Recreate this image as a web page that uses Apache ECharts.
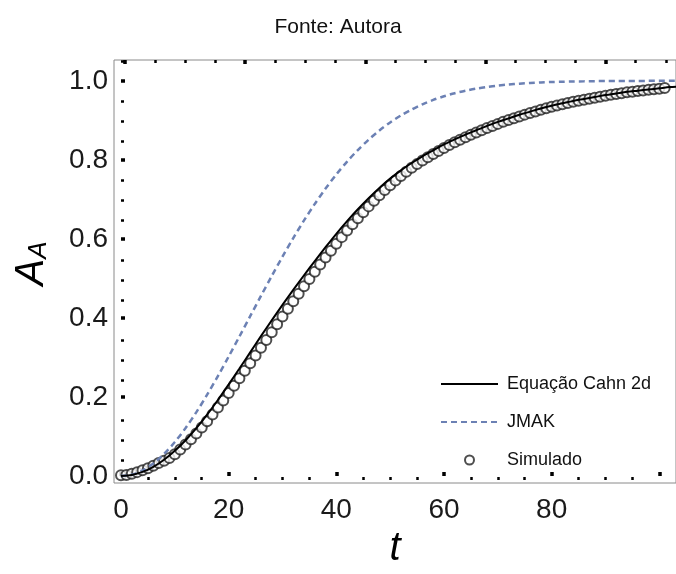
<!DOCTYPE html>
<html>
<head>
<meta charset="utf-8">
<script src="https://cdn.jsdelivr.net/npm/echarts@6/dist/echarts.min.js"></script>
<style>html,body{margin:0;padding:0;background:#fff;}#c{width:676px;height:574px;}</style>
</head>
<body>
<div id="c"></div>
<script>
// ---- data ----
const curveT = [0,2,4,6,8,10,12,14,16,18,20,22,24,26,28,30,32,34,36,38,40,42,44,46,48,50,52,54,56,58,60,62,64,66,68,70,72,74,76,78,80,82,84,86,88,90,92,94,96,98,100,102,104];
const cahnA = [0,0.0026,0.0105,0.0235,0.0414,0.0639,0.0907,0.1213,0.1555,0.1925,0.2320,0.272,0.313,0.354,0.394,0.433,0.471,0.508,0.544,0.579,0.613,0.645,0.675,0.703,0.729,0.7525,0.7735,0.792,0.809,0.824,0.839,0.852,0.864,0.875,0.886,0.896,0.905,0.914,0.922,0.930,0.937,0.943,0.949,0.954,0.959,0.964,0.968,0.972,0.975,0.978,0.981,0.984,0.986];
const jmakA = [0,0.0036,0.0143,0.0319,0.0560,0.0861,0.1216,0.1617,0.2058,0.2529,0.3023,0.3531,0.4045,0.4558,0.5062,0.5551,0.6021,0.6467,0.6885,0.7274,0.7631,0.7956,0.8249,0.8511,0.8743,0.8946,0.9123,0.9275,0.9405,0.9516,0.9608,0.9686,0.9749,0.9802,0.9844,0.9878,0.9906,0.9928,0.9945,0.9958,0.9969,0.9976,0.9983,0.9987,0.9991,0.9993,0.9995,0.9996,0.9997,0.9998,0.9999,0.9999,0.9999];
const simT = [0,1,2,3,4,5,6,7,8,9,10,11,12,13,14,15,16,17,18,19,20,21,22,23,24,25,26,27,28,29,30,31,32,33,34,35,36,37,38,39,40,41,42,43,44,45,46,47,48,49,50,51,52,53,54,55,56,57,58,59,60,61,62,63,64,65,66,67,68,69,70,71,72,73,74,75,76,77,78,79,80,81,82,83,84,85,86,87,88,89,90,91,92,93,94,95,96,97,98,99,100,101];
const simA = [0.002,0.003,0.006,0.010,0.015,0.020,0.026,0.033,0.039,0.0455,0.0555,0.0671,0.0797,0.0933,0.1077,0.1230,0.1390,0.1558,0.1733,0.1914,0.2103,0.2288,0.2476,0.2664,0.2855,0.3048,0.3245,0.3442,0.364,0.384,0.4038,0.4233,0.4425,0.4615,0.4803,0.4988,0.517,0.535,0.5528,0.5703,0.5875,0.6045,0.621,0.637,0.6525,0.6675,0.6823,0.6966,0.7103,0.7235,0.736,0.748,0.7592,0.7699,0.7798,0.7892,0.7981,0.8068,0.8147,0.8224,0.830,0.8377,0.8445,0.8511,0.8573,0.8634,0.8691,0.8747,0.8803,0.8859,0.891,0.8961,0.9007,0.9053,0.9099,0.9144,0.9185,0.9226,0.9266,0.9306,0.9342,0.9376,0.9407,0.9437,0.9467,0.9496,0.9522,0.9547,0.9572,0.9597,0.9623,0.9646,0.9666,0.9687,0.9707,0.9725,0.974,0.9756,0.9771,0.9786,0.9801,0.9816];
const seriesNames = ['Equação Cahn 2d', 'JMAK', 'Simulado'];
// ---- tick labels / tick positions ----
const xLabels = [0,20,40,60,80];
const xMajorTicks = [0,20,40,60,80,100];
const xMinorTicks = [5,10,15,25,30,35,45,50,55,65,70,75,85,90,95];
const yLabels = [0,0.2,0.4,0.6,0.8,1.0];
const yMinorTicks = [0.05,0.1,0.15,0.25,0.3,0.35,0.45,0.5,0.55,0.65,0.7,0.75,0.85,0.9,0.95,1.05];
const topMajorTicks = [0,1,2,3,4];
const topMinorTicks = [0.25,0.5,0.75,1.25,1.5,1.75,2.25,2.5,2.75,3.25,3.5,3.75,4.25,4.5];

const FONT = 'Liberation Sans, Arial, sans-serif';
const pair = (xs, ys) => xs.map((x, i) => [x, ys[i]]);
const gridBox = { left: 114, right: -7, top: 60, bottom: 87 };
const X = { min: -1.3, max: 103.1 };
const Y = { min: -0.0175, max: 1.0526 };
const U = { min: -0.0904, max: 4.585 };
const majorTick = { show: true, inside: true, length: 4, lineStyle: { color: '#000', width: 3.5 } };
const minorTick = { show: true, inside: true, length: 3, lineStyle: { color: '#000', width: 2.5 } };
const CAHN_COLOR = '#000';
const JMAK_COLOR = '#6c81b4';
const SIM_COLOR = '#222';

const chart = echarts.init(document.getElementById('c'), null, { renderer: 'canvas' });
chart.setOption({
  animation: false,
  backgroundColor: '#fff',
  title: { text: 'Fonte: Autora', left: 'center', top: 12,
    textStyle: { fontFamily: FONT, fontSize: 21, fontWeight: 'normal', color: '#111' } },
  grid: [
    Object.assign({ show: true, borderColor: '#8a8a8a', borderWidth: 1, containLabel: false }, gridBox),
    Object.assign({ show: false, containLabel: false }, gridBox)
  ],
  xAxis: [
    { gridIndex: 0, type: 'value', position: 'bottom', min: X.min, max: X.max,
      axisLine: { show: false }, splitLine: { show: false },
      axisTick: Object.assign({ customValues: xMajorTicks }, majorTick),
      axisLabel: { customValues: xLabels, fontFamily: FONT, fontSize: 28, color: '#1a1a1a', margin: 13 },
      name: 't', nameLocation: 'middle', nameGap: 46,
      nameTextStyle: { fontFamily: FONT, fontSize: 40, fontStyle: 'italic', color: '#000' } },
    { gridIndex: 0, type: 'value', position: 'top', min: U.min, max: U.max,
      axisLine: { show: false }, splitLine: { show: false }, axisLabel: { show: false },
      axisTick: Object.assign({ customValues: topMajorTicks }, majorTick) },
    { gridIndex: 1, type: 'value', position: 'bottom', min: X.min, max: X.max,
      axisLine: { show: false }, splitLine: { show: false }, axisLabel: { show: false },
      axisTick: Object.assign({ customValues: xMinorTicks }, minorTick) },
    { gridIndex: 1, type: 'value', position: 'top', min: U.min, max: U.max,
      axisLine: { show: false }, splitLine: { show: false }, axisLabel: { show: false },
      axisTick: Object.assign({ customValues: topMinorTicks }, minorTick) }
  ],
  yAxis: [
    { gridIndex: 0, type: 'value', position: 'left', min: Y.min, max: Y.max,
      axisLine: { show: false }, splitLine: { show: false },
      axisTick: Object.assign({ customValues: yLabels }, majorTick),
      axisLabel: { customValues: yLabels, formatter: v => v.toFixed(1), fontFamily: FONT, fontSize: 28, color: '#1a1a1a', margin: 6 },
      name: '{a|A}{b|A}', nameLocation: 'middle', nameGap: 62, nameRotate: 90,
      nameTextStyle: { rich: {
        a: { fontFamily: FONT, fontSize: 40, fontStyle: 'italic', color: '#000', lineHeight: 48, verticalAlign: 'bottom', padding: [0, 0, 0, 16] },
        b: { fontFamily: FONT, fontSize: 26, fontStyle: 'italic', color: '#000', lineHeight: 26, verticalAlign: 'bottom' }
      } } },
    { gridIndex: 1, type: 'value', position: 'left', min: Y.min, max: Y.max,
      axisLine: { show: false }, splitLine: { show: false }, axisLabel: { show: false },
      axisTick: Object.assign({ customValues: yMinorTicks }, minorTick) }
  ],
  legend: {
    orient: 'vertical', left: 440, top: 375, padding: 0, itemWidth: 57, itemHeight: 9, itemGap: 20,
    selectedMode: false,
    data: [
      { name: seriesNames[0], itemStyle: { opacity: 0 } },
      { name: seriesNames[1], itemStyle: { opacity: 0 } },
      { name: seriesNames[2] }
    ],
    textStyle: { fontFamily: FONT, fontSize: 18, color: '#111', padding: [0, 0, 0, 4] }
  },
  series: [
    { name: seriesNames[2], type: 'scatter', xAxisIndex: 0, yAxisIndex: 0,
      data: pair(simT, simA), symbol: 'emptyCircle', symbolSize: 10,
      itemStyle: { color: SIM_COLOR, borderWidth: 1 }, z: 2 },
    { name: seriesNames[1], type: 'line', xAxisIndex: 0, yAxisIndex: 0,
      data: pair(curveT, jmakA), symbol: 'none', smooth: 0.3,
      itemStyle: { color: JMAK_COLOR },
      lineStyle: { color: JMAK_COLOR, width: 2.5, type: [6, 4] }, z: 3 },
    { name: seriesNames[0], type: 'line', xAxisIndex: 0, yAxisIndex: 0,
      data: pair(curveT, cahnA), symbol: 'none', smooth: 0.3,
      itemStyle: { color: CAHN_COLOR },
      lineStyle: { color: CAHN_COLOR, width: 2 }, z: 4 }
  ]
});
</script>
</body>
</html>
